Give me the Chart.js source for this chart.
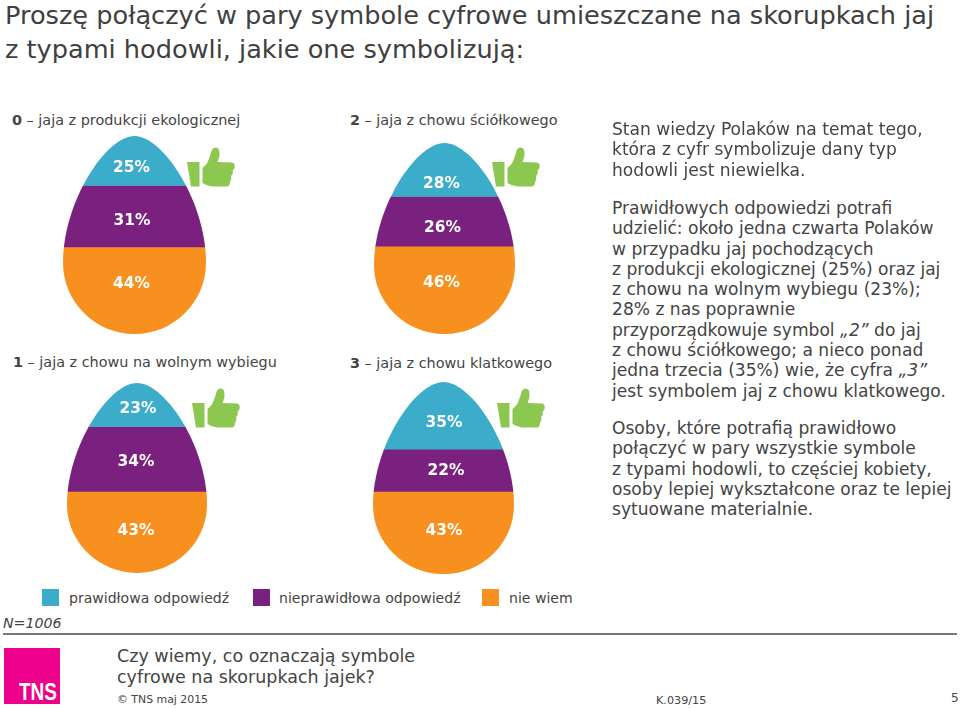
<!DOCTYPE html>
<html lang="pl">
<head>
<meta charset="UTF-8" />
<title>Czy wiemy, co oznaczają symbole cyfrowe na skorupkach jajek?</title>
<script src="https://cdn.jsdelivr.net/npm/chart.js"></script>
<style>
  html, body { margin: 0; padding: 0; background: #fff; }
  body { width: 960px; height: 708px; position: relative; overflow: hidden;
         font-family: 'DejaVu Sans', sans-serif; color: #444; }
  .t { position: absolute; white-space: nowrap; }
  canvas { position: absolute; }
  .thumb { position: absolute; width: 48px; height: 40px; }
  .swatch { position: absolute; top: 589px; width: 17px; height: 17px; }
  .head { font-size: 14.4px; line-height: 18px; }
  .title { font-size: 25.6px; line-height: 27px; color: #404040; left: 5px; }
  .side { font-size: 17.1px; line-height: 20.3px; left: 612px; }
  .tns { left: 19px; top: 678px; font: bold 24px 'Liberation Sans', sans-serif; color: #fff;
         transform: scaleX(.79); transform-origin: left top; }
</style>
</head>
<body>

<div class="t title" style="top:2px">Proszę połączyć w pary symbole cyfrowe umieszczane na skorupkach jaj</div>
<div class="t title" style="top:36px">z typami hodowli, jakie one symbolizują:</div>

<div class="t head" style="left:12px;top:111px"><b>0</b> – jaja z produkcji ekologicznej</div>
<div class="t head" style="left:350px;top:111px"><b>2</b> – jaja z chowu ściółkowego</div>
<div class="t head" style="left:13px;top:353px"><b>1</b> – jaja z chowu na wolnym wybiegu</div>
<div class="t head" style="left:350px;top:354px"><b>3</b> – jaja z chowu klatkowego</div>

<canvas id="egg0"></canvas>
<canvas id="egg1"></canvas>
<canvas id="egg2"></canvas>
<canvas id="egg3"></canvas>

<svg width="0" height="0" style="position:absolute">
  <defs>
    <g id="thumbUp" fill="#8cc84f">
      <path d="M0 15 L12.5 15 L12.5 39.5 L4 39.5 Z"/>
      <path d="M15.5 21 L20 16.5 C22 12 23.5 8 24.5 4 C25.5 0.5 30 -1 32 3 C33 7 32.5 11 30.5 15 L45 15.5 Q48.5 16.5 47.5 21 L45.5 24 Q46.5 27 44 29 Q45 32 43 35 Q43 39 40 39.5 L25 39.5 Q20 39 15.5 36 Z"/>
    </g>
  </defs>
</svg>
<svg class="thumb" viewBox="0 0 48 40" style="left:187px;top:147px"><use href="#thumbUp"/></svg>
<svg class="thumb" viewBox="0 0 48 40" style="left:492px;top:147px"><use href="#thumbUp"/></svg>
<svg class="thumb" viewBox="0 0 48 40" style="left:192px;top:388px"><use href="#thumbUp"/></svg>
<svg class="thumb" viewBox="0 0 48 40" style="left:497px;top:388px"><use href="#thumbUp"/></svg>

<div class="t side" style="top:119px">Stan wiedzy Polaków na temat tego,<br>która z cyfr symbolizuje dany typ<br>hodowli jest niewielka.</div>
<div class="t side" style="top:198px">Prawidłowych odpowiedzi potrafi<br>udzielić: około jedna czwarta Polaków<br>w przypadku jaj pochodzących<br>z produkcji ekologicznej (25%) oraz jaj<br>z chowu na wolnym wybiegu (23%);<br>28% z nas poprawnie<br>przyporządkowuje symbol <i>„2”</i> do jaj<br>z chowu ściółkowego; a nieco ponad<br>jedna trzecia (35%) wie, że cyfra <i>„3”</i><br>jest symbolem jaj z chowu klatkowego.</div>
<div class="t side" style="top:418px">Osoby, które potrafią prawidłowo<br>połączyć w pary wszystkie symbole<br>z typami hodowli, to częściej kobiety,<br>osoby lepiej wykształcone oraz te lepiej<br>sytuowane materialnie.</div>

<div class="swatch" style="left:42px;background:#3bacca"></div>
<div class="t" id="lg0" style="left:69px;top:590px;font-size:14.05px"></div>
<div class="swatch" style="left:253px;background:#7a2180"></div>
<div class="t" id="lg1" style="left:279px;top:590px;font-size:14.05px"></div>
<div class="swatch" style="left:482px;background:#f7901e"></div>
<div class="t" id="lg2" style="left:509px;top:590px;font-size:14.05px"></div>

<div class="t" style="left:3px;top:615px;font-size:14.2px;font-style:italic">N=1006</div>
<div style="position:absolute;left:3px;top:633px;width:954px;height:2px;background:#777"></div>

<div style="position:absolute;left:4px;top:648px;width:56px;height:56px;background:#ec008c"></div>
<div class="t tns">TNS</div>

<div class="t" style="left:117px;top:646px;font-size:17.5px;line-height:20.5px">Czy wiemy, co oznaczają symbole<br>cyfrowe na skorupkach jajek?</div>
<div class="t" style="left:117px;top:693px;font-size:10.9px">© TNS maj 2015</div>
<div class="t" style="left:656px;top:694px;font-size:11.2px">K.039/15</div>
<div class="t" style="left:951px;top:691px;font-size:12px">5</div>

<script>
  const categories = ['0', '1', '2', '3'];
  const seriesNames = ['prawidłowa odpowiedź', 'nieprawidłowa odpowiedź', 'nie wiem'];
  const correct = [25, 23, 28, 35];
  const incorrect = [31, 34, 26, 22];
  const dontKnow = [44, 43, 46, 43];

  const seriesColors = ['#3bacca', '#7a2180', '#f7901e'];

  // where each egg sits on the page
  const eggBoxes = [
    { left: 63, top: 136, width: 143, height: 198 },
    { left: 67, top: 383, width: 140, height: 190 },
    { left: 374, top: 143, width: 141, height: 191 },
    { left: 373, top: 382, width: 141, height: 192 }
  ];
  // hand placed label nudges, the source slide does not centre them
  const labelNudges = [
    [[-3, 7], [-2.5, 5], [-3, -6]],
    [[1, 4], [-1, 3], [-1, -1]],
    [[-3, 14], [-2, 7], [-3, -7]],
    [[0.5, 7], [2.5, 1], [0.5, -2]]
  ];

  function eggPath(ctx, area) {
    const cx = (area.left + area.right) / 2;
    const w = (area.right - area.left) / 2;
    const top = area.top;
    const h = area.bottom - area.top;
    const waist = top + h * 0.64;
    const upper = waist - top;
    const lower = area.bottom - waist;
    ctx.beginPath();
    ctx.moveTo(cx, top);
    ctx.bezierCurveTo(cx + w * 0.4, top, cx + w, top + upper * 0.52, cx + w, waist);
    ctx.bezierCurveTo(cx + w, waist + lower * 0.55, cx + w * 0.55, area.bottom, cx, area.bottom);
    ctx.bezierCurveTo(cx - w * 0.55, area.bottom, cx - w, waist + lower * 0.55, cx - w, waist);
    ctx.bezierCurveTo(cx - w, top + upper * 0.52, cx - w * 0.4, top, cx, top);
    ctx.closePath();
  }

  const eggShape = {
    id: 'eggShape',
    beforeDatasetsDraw(chart) {
      chart.ctx.save();
      eggPath(chart.ctx, chart.chartArea);
      chart.ctx.clip();
    },
    afterDatasetsDraw(chart) {
      const ctx = chart.ctx;
      ctx.restore();
      const nudges = labelNudges[chart.options.plugins.eggShape.egg];
      ctx.save();
      ctx.font = 'bold 15.4px "DejaVu Sans"';
      ctx.fillStyle = '#fff';
      ctx.textAlign = 'center';
      ctx.textBaseline = 'middle';
      chart.data.datasets.forEach((ds, i) => {
        const bar = chart.getDatasetMeta(i).data[0];
        ctx.fillText(ds.data[0] + '%', bar.x + nudges[i][0], (bar.y + bar.base) / 2 + nudges[i][1]);
      });
      ctx.restore();
    }
  };

  const seriesValues = [correct, incorrect, dontKnow];

  categories.forEach((cat, e) => {
    const el = document.getElementById('egg' + cat);
    const box = eggBoxes[e];
    el.width = box.width;
    el.height = box.height;
    el.style.left = box.left + 'px';
    el.style.top = box.top + 'px';
    new Chart(el.getContext('2d'), {
      type: 'bar',
      data: {
        labels: [cat],
        datasets: seriesNames.map((name, s) => ({
          label: name,
          data: [seriesValues[s][e]],
          backgroundColor: seriesColors[s],
          barPercentage: 1,
          categoryPercentage: 1
        }))
      },
      options: {
        responsive: false,
        animation: false,
        layout: { padding: 0 },
        plugins: { legend: { display: false }, tooltip: { enabled: false }, eggShape: { egg: e } },
        scales: {
          x: { stacked: true, display: false },
          y: { stacked: true, display: false, reverse: true, min: 0, max: 100 }
        }
      },
      plugins: [eggShape]
    });
  });

  seriesNames.forEach((name, s) => {
    document.getElementById('lg' + s).textContent = name;
  });
</script>
</body>
</html>
